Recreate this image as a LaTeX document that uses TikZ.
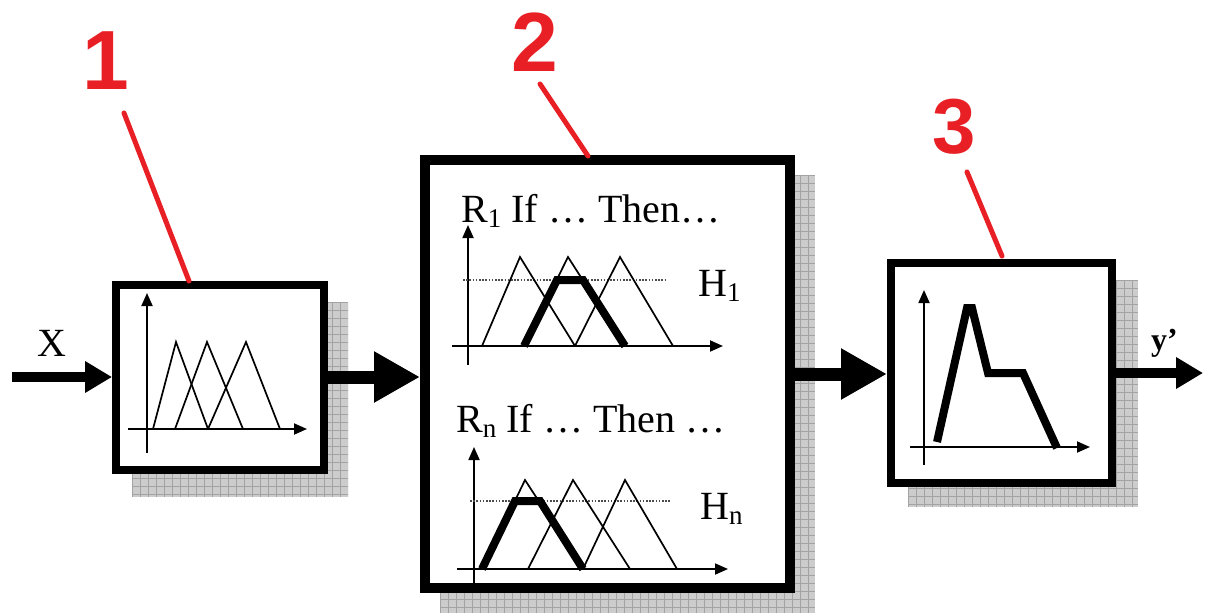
\documentclass[tikz,border=0pt]{standalone}
\usepackage{fontspec}
\setmainfont{Liberation Serif}
\newfontfamily\digitfont{Liberation Sans}
\usetikzlibrary{arrows.meta}

\definecolor{markred}{RGB}{232,32,38}
% small lowered index, as in R_1 and H_n
\newcommand\idx[1]{\raisebox{-5pt}{\fontsize{27}{27}\selectfont #1}}

\tikzset{
  block/.style={draw=black, fill=white, line width=8pt, inner sep=0pt, outer sep=4pt},
  shadowgrid/.style={fill=black!20},
  gridlines/.style={draw=black!36, line width=0.6pt},
  flow/.style={line width=10pt, -{Triangle[length=27pt,width=30pt]}},
  bigflow/.style={line width=13pt, -{Triangle[length=46pt,width=48pt]}},
  axis/.style={line width=1.8pt, -{Triangle[length=13pt,width=11pt]}},
  mf/.style={line width=1.7pt},
  mfcut/.style={line width=8pt},
  level/.style={line width=1.3pt, black!70, dash pattern=on 1.6pt off 1.6pt},
  ruletext/.style={anchor=base west, inner sep=0pt, font=\fontsize{40}{48}\selectfont},
  callout/.style={anchor=base, inner sep=0pt, text=markred, font=\digitfont\bfseries\fontsize{84}{90}\selectfont},
  leader/.style={draw=markred, line width=5pt, line cap=round}
}

\begin{document}
\begin{tikzpicture}[x=1pt, y=-1pt]
\useasboundingbox (0,0) rectangle (1209,615);

% gridded drop shadows
\foreach \xa/\ya/\xb/\yb in {132/302/348/497, 440/175/815/613, 908/280/1138/507}{
  \fill[shadowgrid] (\xa,\ya) rectangle (\xb,\yb);
  \begin{scope}
    \clip (\xa,\ya) rectangle (\xb,\yb);
    \foreach \gx in {0,8,...,400}{\draw[gridlines] (\xa+\gx,\ya) -- (\xa+\gx,\yb);}
    \foreach \gy in {0,8,...,440}{\draw[gridlines] (\xa,\ya+\gy) -- (\xb,\ya+\gy);}
  \end{scope}
}

% the three blocks
\node[block, minimum width=208pt, minimum height=185pt] (fuzz) at (220,377) {};
\node[block, line width=10pt, outer sep=5pt, minimum width=365pt, minimum height=428pt] (rules) at (607.5,374) {};
\node[block, minimum width=221pt, minimum height=220pt] (defuzz) at (1001.5,373) {};

% signal flow
\coordinate (xin) at (12,377);
\coordinate (yout) at (1203,373);
\draw[flow] (xin) -- (fuzz.west);
\draw[bigflow] (fuzz.east) -- (fuzz.east -| rules.west);
\draw[bigflow] (rules.east) -- (rules.east -| defuzz.west);
\draw[flow] (defuzz.east) -- (yout);

\node[anchor=base west, inner sep=0pt, font=\fontsize{40}{48}\selectfont] (xlabel) at (37,356) {X};
\node[anchor=base west, inner sep=0pt, font=\bfseries\fontsize{32}{38}\selectfont] (ylabel) at (1151,350) {y’};

% fuzzification: input membership functions
\draw[axis] (147,453) -- (147,293);
\draw[axis] (128,429) -- (307,429);
\draw[mf] (153,429) -- (176,342) -- (208,429);
\draw[mf] (175,429) -- (207,342) -- (243,429);
\draw[mf] (208,429) -- (246,342) -- (280,429);

% rule base: first rule
\node[ruletext] (r1) at (461,222) {R\idx{1} If … Then…};
\node[ruletext] (h1) at (698,296) {H\idx{1}};
\draw[axis] (468,365) -- (468,225);
\draw[axis] (452,346) -- (723,346);
\draw[level] (463,280) -- (665,280);
\draw[mf] (482,346) -- (520,257) -- (575,346);
\draw[mf] (524,346) -- (568,257) -- (625,346);
\draw[mf] (575,346) -- (620,257) -- (673,346);
\draw[mfcut] (524,346) -- (557,280) -- (583,280) -- (625,346);

% rule base: last rule
\node[ruletext] (rn) at (456,432) {R\idx{n} If … Then …};
\node[ruletext] (hn) at (700,519) {H\idx{n}};
\draw[axis] (474,583) -- (474,447);
\draw[axis] (457,569) -- (728,569);
\draw[level] (470,501) -- (670,501);
\draw[mf] (482,569) -- (525,480) -- (583,569);
\draw[mf] (528,569) -- (573,480) -- (630,569);
\draw[mf] (583,569) -- (625,480) -- (677,569);
\draw[mfcut] (482,569) -- (515,501) -- (540,501) -- (583,569);

% defuzzification: aggregated output
\draw[axis] (924,465) -- (924,290);
\draw[axis] (910,447) -- (1090,447);
\draw[mfcut] (937,442) -- (967,308) -- (972,308) -- (988,373) -- (1023,373) -- (1057,448);

% numbered callouts
\node[callout] (n1) at (106,90) {1};
\node[callout] (n2) at (535,72) {2};
\node[callout, font=\digitfont\bfseries\fontsize{78}{84}\selectfont] (n3) at (954,153) {3};
\coordinate (p1) at (189,281);
\coordinate (p2) at (588,156);
\coordinate (p3) at (1002,256);
\draw[leader] (124,113) -- (p1);
\draw[leader] (540,84) -- (p2);
\draw[leader] (967,172) -- (p3);
\end{tikzpicture}
\end{document}
